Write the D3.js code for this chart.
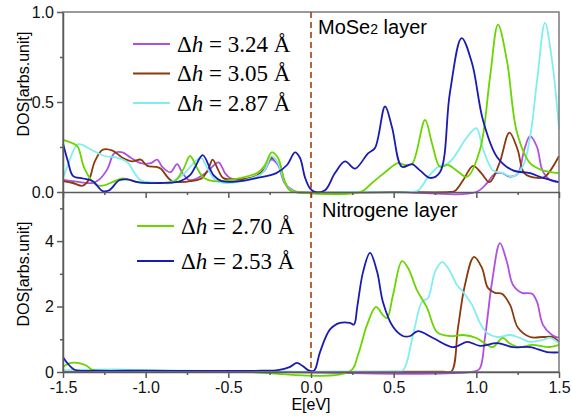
<!DOCTYPE html>
<html>
<head>
<meta charset="utf-8">
<script src="https://cdn.jsdelivr.net/npm/d3@7"></script>
<style>
  body { margin: 0; background: white; }
  text { font-family: "Liberation Sans", Arial, sans-serif; }
</style>
</head>
<body>
<script>
// energy axis ticks
var energyTicks = [-1.5, -1.0, -0.5, 0.0, 0.5, 1.0, 1.5];
var energyLabels = ["-1.5", "-1.0", "-0.5", "0.0", "0.5", "1.0", "1.5"];
var energyMinor = [-1.25, -0.75, -0.25, 0.25, 0.75, 1.25];

var topTicks = [0, 0.5, 1.0];
var topLabels = ["0.0", "0.5", "1.0"];
var topMinor = [0.25, 0.75];
var botTicks = [0, 2, 4];
var botLabels = ["0", "2", "4"];
var botMinor = [1, 3, 5];

var heights = ["3.24", "3.05", "2.87", "2.70", "2.53"];

// MoSe2 layer  [E, DOS]
var topH324 = [[-1.5,0.067],[-1.40,0.055],[-1.32,0.05],[-1.28,0.07],[-1.23,0.13],[-1.19,0.215],[-1.14,0.22],[-1.09,0.19],[-1.03,0.16],[-0.97,0.16],[-0.93,0.18],[-0.9,0.14],[-0.85,0.11],[-0.81,0.155],[-0.78,0.11],[-0.74,0.067],[-0.69,0.075],[-0.63,0.11],[-0.56,0.165],[-0.52,0.105],[-0.49,0.078],[-0.43,0.07],[-0.33,0.085],[-0.28,0.12],[-0.24,0.18],[-0.2,0.15],[-0.16,0.05],[-0.11,0.01],[-0.08,0],[0.5,0],[1.0,0],[1.065,0.05],[1.11,0.1],[1.155,0.105],[1.2,0.085],[1.25,0.1],[1.29,0.235],[1.325,0.31],[1.367,0.25],[1.4,0.12],[1.446,0.067],[1.5,0.055]];
var topH305 = [[-1.5,0.06],[-1.44,0.05],[-1.38,0.035],[-1.34,0.075],[-1.31,0.165],[-1.26,0.235],[-1.2,0.23],[-1.14,0.19],[-1.08,0.17],[-1.03,0.18],[-0.99,0.145],[-0.94,0.14],[-0.91,0.13],[-0.85,0.067],[-0.79,0.055],[-0.73,0.06],[-0.66,0.077],[-0.62,0.13],[-0.595,0.18],[-0.56,0.12],[-0.53,0.077],[-0.43,0.07],[-0.33,0.09],[-0.28,0.13],[-0.24,0.19],[-0.2,0.16],[-0.157,0.05],[-0.127,0.01],[-0.09,0],[0.5,0],[0.84,0],[0.87,0.005],[0.92,0.065],[0.98,0.145],[1.03,0.105],[1.08,0.055],[1.14,0.16],[1.2,0.33],[1.25,0.235],[1.29,0.105],[1.37,0.078],[1.415,0.085],[1.5,0.2]];
var topH287 = [[-1.5,0.08],[-1.47,0.15],[-1.41,0.265],[-1.33,0.235],[-1.25,0.2],[-1.17,0.19],[-1.11,0.165],[-1.07,0.11],[-1.03,0.065],[-0.95,0.053],[-0.85,0.055],[-0.77,0.1],[-0.70,0.17],[-0.665,0.19],[-0.62,0.12],[-0.57,0.06],[-0.5,0.05],[-0.4,0.065],[-0.3,0.1],[-0.27,0.14],[-0.24,0.2],[-0.2,0.16],[-0.157,0.05],[-0.12,0.01],[-0.09,0],[0.3,0],[0.6,0],[0.65,0.01],[0.71,0.085],[0.77,0.14],[0.83,0.16],[0.87,0.2],[0.94,0.3],[1.0,0.355],[1.04,0.24],[1.1,0.12],[1.16,0.105],[1.22,0.085],[1.28,0.14],[1.325,0.305],[1.37,0.64],[1.415,0.94],[1.458,0.73],[1.5,0.35]];
var topH270 = [[-1.5,0.29],[-1.44,0.27],[-1.41,0.25],[-1.37,0.13],[-1.30,0.04],[-1.26,0.035],[-1.20,0.055],[-1.14,0.075],[-1.05,0.055],[-0.91,0.05],[-0.83,0.055],[-0.77,0.13],[-0.732,0.2],[-0.69,0.135],[-0.65,0.08],[-0.59,0.06],[-0.43,0.077],[-0.327,0.105],[-0.278,0.15],[-0.238,0.22],[-0.2,0.19],[-0.157,0.055],[-0.127,0.01],[-0.09,0],[0.3,0],[0.369,0.05],[0.448,0.11],[0.526,0.16],[0.569,0.15],[0.611,0.155],[0.69,0.4],[0.732,0.27],[0.78,0.14],[0.83,0.15],[0.88,0.12],[0.944,0.085],[1.022,0.235],[1.083,0.64],[1.131,0.93],[1.185,0.73],[1.246,0.33],[1.325,0.16],[1.403,0.12],[1.5,0.105]];
var topH253 = [[-1.5,0.27],[-1.47,0.17],[-1.44,0.09],[-1.38,0.075],[-1.32,0.06],[-1.26,0.005],[-1.22,0.01],[-1.16,0.065],[-1.11,0.07],[-1.05,0.055],[-0.91,0.05],[-0.79,0.06],[-0.73,0.095],[-0.70,0.14],[-0.655,0.205],[-0.59,0.094],[-0.54,0.06],[-0.43,0.06],[-0.33,0.077],[-0.21,0.105],[-0.145,0.15],[-0.097,0.22],[-0.067,0.19],[-0.036,0.08],[-0.006,0.02],[0.024,0],[0.085,0.01],[0.145,0.105],[0.206,0.17],[0.266,0.13],[0.345,0.215],[0.387,0.245],[0.448,0.475],[0.49,0.36],[0.55,0.14],[0.611,0.155],[0.659,0.12],[0.72,0.078],[0.78,0.11],[0.84,0.55],[0.911,0.855],[0.974,0.715],[1.04,0.4],[1.125,0.195],[1.222,0.12],[1.325,0.105],[1.403,0.078],[1.5,0.055]];

// Nitrogene layer  [E, DOS]
var botH324 = [[-1.5,0.02],[-0.5,0.02],[0.98,0.01],[1.02,0.1],[1.052,1.04],[1.095,2.75],[1.143,3.94],[1.185,3.36],[1.222,2.66],[1.276,2.42],[1.337,2.39],[1.367,2.14],[1.403,1.44],[1.458,1.13],[1.5,1.04]];
var botH305 = [[-1.5,0.02],[-1.2,0.05],[-0.9,0.02],[0.8,0.01],[0.85,0.02],[0.889,1.35],[0.931,2.66],[0.986,3.52],[1.034,3.18],[1.07,2.57],[1.113,2.42],[1.155,2.39],[1.204,2.05],[1.252,1.35],[1.325,1.07],[1.403,1.07],[1.458,1.07],[1.5,0.92]];
var botH287 = [[-1.5,0.05],[-1.2,0.08],[-0.8,0.04],[-0.3,0.02],[0.5,0.02],[0.556,0.05],[0.617,1.13],[0.671,2.14],[0.708,2.26],[0.75,3.06],[0.792,3.36],[0.829,3.18],[0.883,2.66],[0.919,2.45],[0.974,2.05],[1.022,1.5],[1.065,1.19],[1.125,1.07],[1.204,1.13],[1.264,1.04],[1.325,0.92],[1.403,0.98],[1.446,1.04],[1.5,0.88]];
var botH270 = [[-1.5,0.15],[-1.46,0.27],[-1.41,0.28],[-1.36,0.2],[-1.32,0.06],[-1.25,0.03],[-0.5,0.02],[0.236,0.02],[0.284,0.52],[0.339,1.44],[0.393,1.99],[0.435,1.74],[0.46,1.65],[0.496,2.35],[0.55,3.39],[0.587,3.18],[0.641,2.5],[0.702,1.96],[0.762,1.22],[0.84,1.1],[0.92,1.13],[1.0,1.04],[1.065,0.83],[1.1,0.76],[1.16,1.04],[1.2,0.88],[1.26,0.76],[1.34,0.83],[1.43,0.76],[1.5,0.83]];
var botH253 = [[-1.5,0.45],[-1.47,0.25],[-1.43,0.07],[-1.3,0.04],[-1.0,0.04],[-0.6,0.03],[-0.3,0.04],[-0.2,0.06],[-0.13,0.15],[-0.085,0.28],[-0.05,0.18],[-0.01,0.04],[0.02,0.05],[0.054,0.6],[0.115,1.3],[0.175,1.5],[0.236,1.5],[0.26,1.45],[0.28,2.0],[0.315,3.06],[0.357,3.64],[0.4,3.06],[0.435,2.14],[0.496,1.38],[0.556,1.1],[0.6,1.1],[0.647,1.25],[0.738,1.04],[0.86,0.76],[0.944,0.92],[1.022,0.8],[1.125,0.88],[1.222,0.76],[1.325,0.76],[1.427,0.61],[1.5,0.6]];

var colors = ["#b050e0", "#8a3a0c", "#80eef0", "#6ad600", "#1a1ab4"];
var topSeries = [topH324, topH305, topH287, topH270, topH253];
var botSeries = [botH324, botH305, botH287, botH270, botH253];

var width = 572, height = 419;
var plotLeft = 63, plotRight = 559, plotTop = 12, plotMid = 192, plotBottom = 372;
var axisColor = "#5a5a5a";

var svg = d3.select("body").append("svg")
  .attr("width", width)
  .attr("height", height);

svg.append("rect").attr("width", width).attr("height", height).attr("fill", "white");

var x = d3.scaleLinear().domain([-1.5, 1.5]).range([plotLeft, plotRight]);
var yTop = d3.scaleLinear().domain([0, 1]).range([plotMid, plotTop]);
var yBot = d3.scaleLinear().domain([0, 5.5]).range([plotBottom, plotMid]);

function drawLines(series, y) {
  var line = d3.line()
    .x(function(d) { return x(d[0]); })
    .y(function(d) { return y(d[1]); })
    .curve(d3.curveCatmullRom.alpha(0.5));
  svg.append("g").selectAll("path")
    .data(series)
    .enter()
    .append("path")
    .attr("d", line)
    .attr("fill", "none")
    .attr("stroke", function(d, i) { return colors[i]; })
    .attr("stroke-width", 1.8);
}

drawLines(topSeries, yTop);
drawLines(botSeries, yBot);

// frame
svg.append("rect")
  .attr("x", plotLeft).attr("y", plotTop)
  .attr("width", plotRight - plotLeft).attr("height", plotBottom - plotTop)
  .attr("fill", "none")
  .attr("stroke", "#7a7a7a")
  .attr("stroke-width", 1.5);

function styleAxis(g) {
  g.selectAll("path, line").attr("stroke", axisColor).attr("stroke-width", 1.5);
  g.selectAll("text").attr("fill", "#111").style("font-size", "16px")
    .style("font-family", '"Liberation Sans", Arial, sans-serif');
}

function yAxis(scale, ticks, labels, minor) {
  svg.append("g")
    .attr("transform", "translate(" + plotLeft + ",0)")
    .call(d3.axisLeft(scale).tickValues(ticks).tickSize(6).tickSizeOuter(0).tickPadding(3)
      .tickFormat(function(d, i) { return labels[i]; }))
    .call(styleAxis);
  svg.append("g")
    .attr("transform", "translate(" + plotLeft + ",0)")
    .call(d3.axisLeft(scale).tickValues(minor).tickSize(3).tickFormat(""))
    .call(function(g) { g.select(".domain").remove(); })
    .call(styleAxis);
}

yAxis(yTop, topTicks, topLabels, topMinor);
yAxis(yBot, botTicks, botLabels, botMinor);

// x axes: the top panel keeps only ticks
function xAxis(yPos, withLabels) {
  svg.append("g")
    .attr("transform", "translate(0," + yPos + ")")
    .call(d3.axisBottom(x).tickValues(energyTicks).tickSize(6).tickSizeOuter(0).tickPadding(4)
      .tickFormat(function(d, i) { return withLabels ? energyLabels[i] : ""; }))
    .call(styleAxis);
  svg.append("g")
    .attr("transform", "translate(0," + yPos + ")")
    .call(d3.axisBottom(x).tickValues(energyMinor).tickSize(3).tickFormat(""))
    .call(function(g) { g.select(".domain").remove(); })
    .call(styleAxis);
}
xAxis(plotMid, false);
xAxis(plotBottom, true);

// Fermi level
svg.append("line")
  .attr("x1", x(0)).attr("x2", x(0))
  .attr("y1", plotTop).attr("y2", plotBottom)
  .attr("stroke", "#a0400a")
  .attr("stroke-width", 1.6)
  .attr("stroke-dasharray", "6,4");

// axis titles
svg.append("text")
  .attr("transform", "translate(29,84)rotate(-90)")
  .attr("text-anchor", "middle")
  .style("font-size", "16px")
  .text("DOS[arbs.unit]");
svg.append("text")
  .attr("transform", "translate(29,274)rotate(-90)")
  .attr("text-anchor", "middle")
  .style("font-size", "16px")
  .text("DOS[arbs.unit]");
svg.append("text")
  .attr("x", x(0)).attr("y", 410)
  .attr("text-anchor", "middle")
  .style("font-size", "16px")
  .text("E[eV]");

// panel titles
var t1 = svg.append("text").attr("x", 318).attr("y", 34).style("font-size", "20px");
t1.append("tspan").text("MoSe");
t1.append("tspan").style("font-size", "14px").text("2");
t1.append("tspan").text(" layer");
svg.append("text").attr("x", 322).attr("y", 217).style("font-size", "20px").text("Nitrogene layer");

// legends
var legendRows = [
  {i: 0, x: 133, y: 44}, {i: 1, x: 133, y: 73.5}, {i: 2, x: 133, y: 103},
  {i: 3, x: 137, y: 226}, {i: 4, x: 137, y: 261}
];
legendRows.forEach(function(r) {
  svg.append("line")
    .attr("x1", r.x).attr("x2", r.x + 37)
    .attr("y1", r.y).attr("y2", r.y)
    .attr("stroke", colors[r.i]).attr("stroke-width", 1.8);
  var t = svg.append("text")
    .attr("x", r.x + 44).attr("y", r.y + 7.5)
    .style("font-family", '"Liberation Serif", "Times New Roman", serif')
    .style("font-size", "23px");
  t.append("tspan").text("Δ");
  t.append("tspan").style("font-style", "italic").text("h");
  t.append("tspan").text(" = " + heights[r.i] + " Å");
});
</script>
</body>
</html>
